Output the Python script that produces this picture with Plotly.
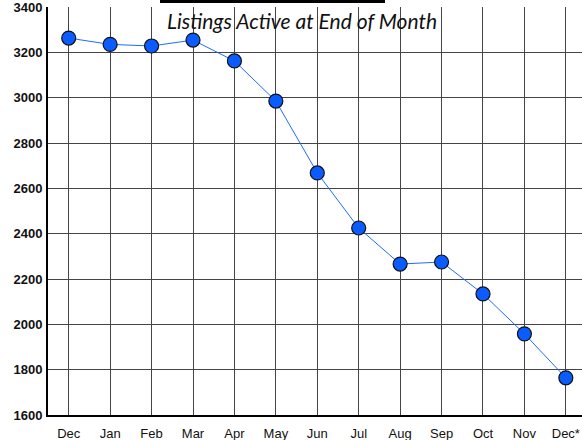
import plotly.graph_objects as go

months = ["Dec", "Jan", "Feb", "Mar", "Apr", "May", "Jun", "Jul", "Aug", "Sep", "Oct", "Nov", "Dec*"]
listings = [3263, 3235, 3228, 3254, 3162, 2985, 2668, 2425, 2266, 2275, 2134, 1958, 1764]
y_ticks = [1600, 1800, 2000, 2200, 2400, 2600, 2800, 3000, 3200, 3400]

fig = go.Figure()
fig.add_trace(go.Scatter(
    x=list(range(len(months))), y=listings, mode="lines+markers",
    line=dict(color="#1f6bff", width=1),
    marker=dict(size=14, color="#0a5cff", line=dict(color="#111111", width=1.2)),
    showlegend=False, cliponaxis=False,
))

fig.update_layout(
    width=582, height=440,
    margin=dict(l=48, r=0, t=7, b=25, autoexpand=False),
    paper_bgcolor="white", plot_bgcolor="white",
    font=dict(family="Arial, Liberation Sans", color="#111111"),
    xaxis=dict(
        tickmode="array", tickvals=list(range(len(months))), ticktext=months,
        range=[-0.5, 12.39], showgrid=True, gridcolor="#444444", gridwidth=1,
        showline=True, linecolor="black", linewidth=2, zeroline=False, automargin=False,
        tickfont=dict(size=13, family="Arial, Liberation Sans"), ticks="", ticklen=0,
        ticklabelstandoff=5,
    ),
    yaxis=dict(
        range=[1600, 3400], tickmode="array", tickvals=y_ticks,
        showgrid=True, gridcolor="#444444", gridwidth=1,
        showline=True, linecolor="black", linewidth=2, zeroline=False, automargin=False,
        tickfont=dict(size=13, family="Arial, Liberation Sans", weight="bold"),
        ticks="", ticklen=0, ticklabelstandoff=1, ticklabeloverflow="allow",
    ),
)

fig.add_annotation(
    text="<i>Listings Active at End of Month</i>", xref="paper", yref="paper",
    x=(302 - 48) / 534, y=1 - (21 - 7) / 408, xanchor="center", yanchor="middle",
    showarrow=False, font=dict(size=21, family="Lato, Open Sans", color="#111111"),
)
fig.add_shape(
    type="rect", xref="paper", yref="paper",
    x0=(160 - 48) / 534, x1=(385 - 48) / 534,
    y0=1 + 4 / 408, y1=1 + 7 / 408,
    fillcolor="black", line=dict(width=0),
)

fig.write_html("out.html", config={"displayModeBar": False},
               post_script="document.body.style.margin='0';")
